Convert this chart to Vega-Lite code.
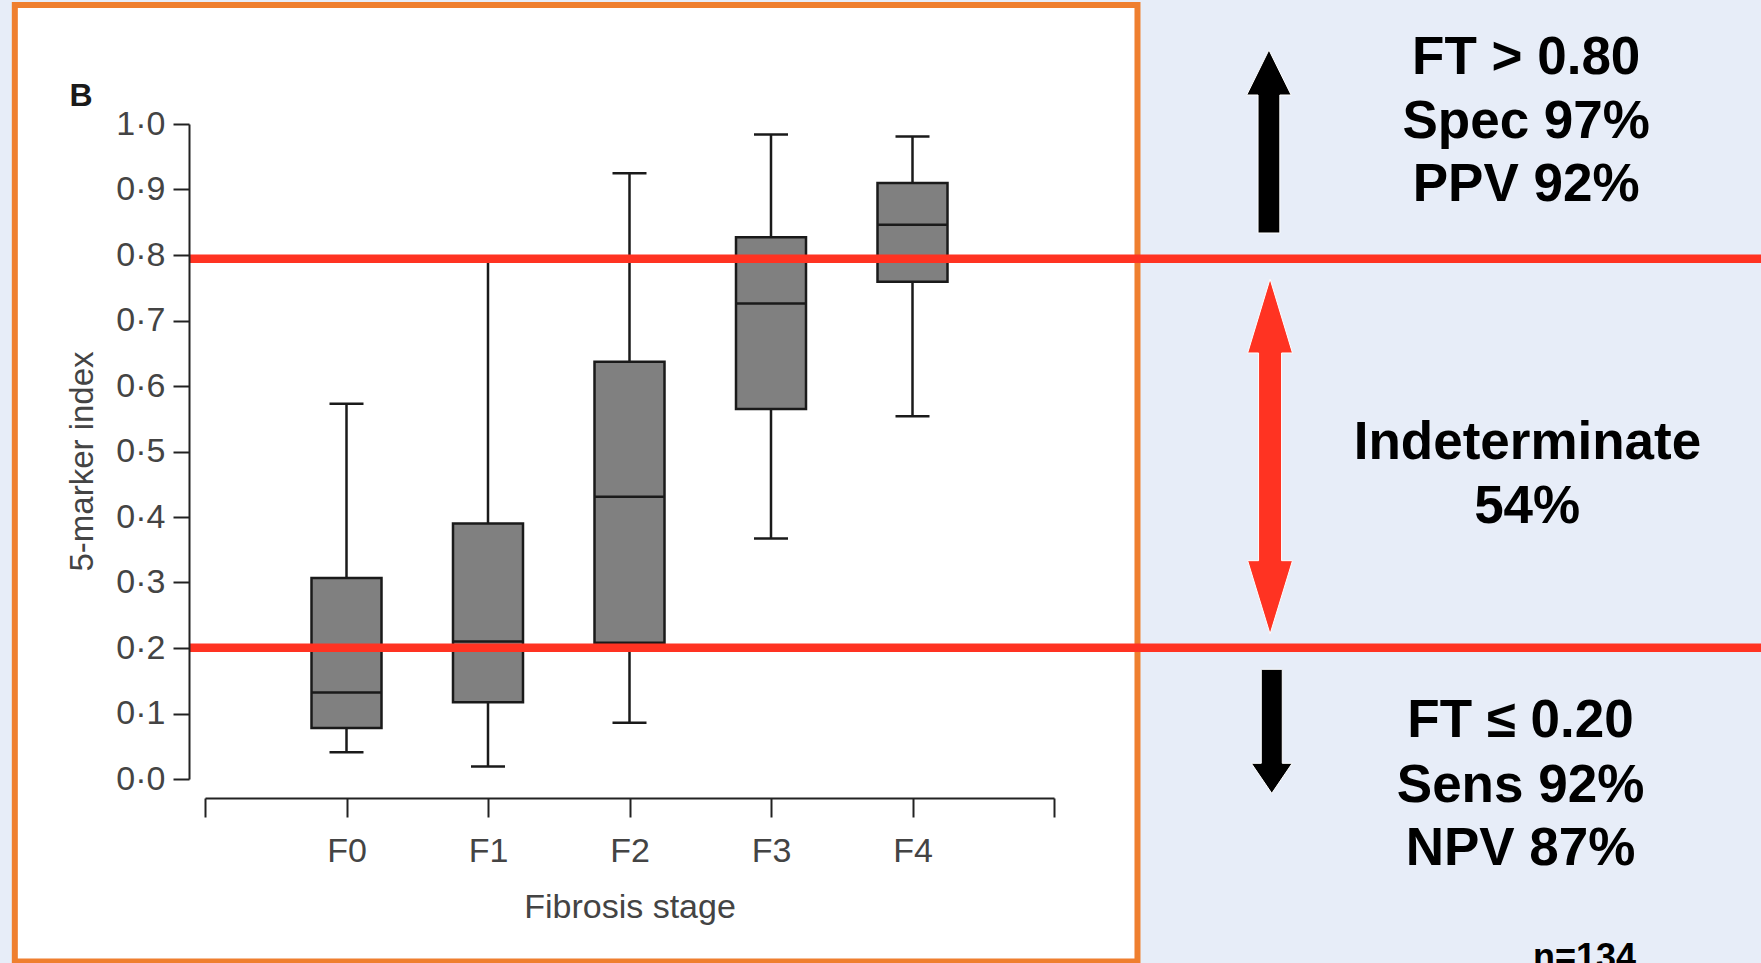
{
  "$schema": "https://vega.github.io/schema/vega-lite/v6.json",
  "width": 849,
  "height": 655,
  "autosize": {"type": "none"},
  "padding": {"left": 205, "top": 124, "right": 707, "bottom": 184},
  "background": "#E7EDF8",
  "config": {"view": {"stroke": null}, "font": "Liberation Sans", "scale": {"continuousPadding": 0}},
  "datasets": {
    "boxes": [
      {"stage": "F0", "pos": 0, "lower": 0.041, "q1": 0.078, "median": 0.132, "q3": 0.307, "upper": 0.573},
      {"stage": "F1", "pos": 1, "lower": 0.019, "q1": 0.117, "median": 0.210, "q3": 0.390, "upper": 0.791},
      {"stage": "F2", "pos": 2, "lower": 0.086, "q1": 0.208, "median": 0.431, "q3": 0.637, "upper": 0.925},
      {"stage": "F3", "pos": 3, "lower": 0.367, "q1": 0.565, "median": 0.726, "q3": 0.827, "upper": 0.984},
      {"stage": "F4", "pos": 4, "lower": 0.554, "q1": 0.759, "median": 0.846, "q3": 0.910, "upper": 0.981}
    ],
    "panel": [{"x0": -2.344, "x1": 5.59, "y0": 1.1817, "y1": -0.2786}],
    "cutoffs": [{"cutoff": 0.7944}, {"cutoff": 0.2005}],
    "arrows": [
      {"arrow": "up", "ax": 6.519, "ay": 0.9733},
      {"arrow": "both", "ax": 6.527, "ay": 0.4924},
      {"arrow": "down", "ax": 6.539, "ay": 0.0728}
    ],
    "notes": [
      {"text": "FT > 0.80", "tx": 8.337, "ty": 1.0763},
      {"text": "Spec 97%", "tx": 8.337, "ty": 0.9786},
      {"text": "PPV 92%", "tx": 8.337, "ty": 0.8829},
      {"text": "Indeterminate", "tx": 8.346, "ty": 0.4885},
      {"text": "54%", "tx": 8.344, "ty": 0.3908},
      {"text": "FT ≤ 0.20", "tx": 8.297, "ty": 0.0641},
      {"text": "Sens 92%", "tx": 8.297, "ty": -0.0347},
      {"text": "NPV 87%", "tx": 8.297, "ty": -0.1313}
    ],
    "nlabel": [{"text": "n=134", "tx": 8.749, "ty": -0.2908}],
    "panelLabel": [{"text": "B", "tx": -1.958, "ty": 1.0275}]
  },
  "layer": [
    {
      "data": {"name": "panel"},
      "mark": {"type": "rect", "fill": "white", "stroke": "#EF7F2F", "strokeWidth": 6},
      "encoding": {
        "x": {"field": "x0", "type": "quantitative", "scale": {"domain": [-1, 5], "nice": false, "zero": false}},
        "x2": {"field": "x1"},
        "y": {"field": "y0", "type": "quantitative", "scale": {"domain": [0, 1], "nice": false, "zero": false}},
        "y2": {"field": "y1"}
      }
    },
    {
      "data": {"name": "boxes"},
      "mark": {"type": "rule", "color": "#1a1a1a", "strokeWidth": 2.5},
      "encoding": {
        "x": {"field": "pos", "type": "quantitative", "scale": {"domain": [-1, 5], "nice": false, "zero": false}},
        "y": {"field": "lower", "type": "quantitative", "scale": {"domain": [0, 1], "nice": false, "zero": false}},
        "y2": {"field": "upper"}
      }
    },
    {
      "data": {"name": "boxes"},
      "mark": {"type": "tick", "orient": "horizontal", "color": "#1a1a1a", "size": 34, "thickness": 2.5, "opacity": 1},
      "encoding": {
        "x": {"field": "pos", "type": "quantitative", "scale": {"domain": [-1, 5], "nice": false, "zero": false}},
        "y": {"field": "upper", "type": "quantitative", "scale": {"domain": [0, 1], "nice": false, "zero": false}}
      }
    },
    {
      "data": {"name": "boxes"},
      "mark": {"type": "tick", "orient": "horizontal", "color": "#1a1a1a", "size": 34, "thickness": 2.5, "opacity": 1},
      "encoding": {
        "x": {"field": "pos", "type": "quantitative", "scale": {"domain": [-1, 5], "nice": false, "zero": false}},
        "y": {"field": "lower", "type": "quantitative", "scale": {"domain": [0, 1], "nice": false, "zero": false}}
      }
    },
    {
      "data": {"name": "boxes"},
      "mark": {"type": "bar", "width": 70, "fill": "#808080", "stroke": "#1a1a1a", "strokeWidth": 2.5},
      "encoding": {
        "x": {
          "field": "pos", "type": "quantitative",
          "scale": {"domain": [-1, 5], "nice": false, "zero": false},
          "axis": {
            "zindex": 1,
            "values": [-1, 0, 1, 2, 3, 4, 5],
            "labelExpr": "datum.value >= 0 && datum.value <= 4 ? 'F' + datum.value : ''",
            "title": "Fibrosis stage",
            "offset": 19, "tickSize": 19, "tickWidth": 2, "tickColor": "#222",
            "domainColor": "#222", "domainWidth": 2,
            "labelFont": "Liberation Sans", "labelFontSize": 34, "labelColor": "#444", "labelPadding": 17,
            "labelFlush": false, "labelOverlap": false, "grid": false,
            "titleFont": "Liberation Sans", "titleFontSize": 34, "titleFontWeight": "normal", "titleColor": "#444",
            "titleBaseline": "alphabetic", "titleY": 119.4
          }
        },
        "y": {
          "field": "q1", "type": "quantitative",
          "scale": {"domain": [0, 1], "nice": false, "zero": false},
          "axis": {
            "zindex": 1,
            "values": [0, 0.1, 0.2, 0.3, 0.4, 0.5, 0.6, 0.7, 0.8, 0.9, 1.0],
            "labelExpr": "replace(format(datum.value, '.1f'), '.', '·')",
            "title": "5-marker index",
            "offset": 16, "tickSize": 16, "tickWidth": 2, "tickColor": "#222",
            "domainColor": "#222", "domainWidth": 2,
            "labelFont": "Liberation Sans", "labelFontSize": 34, "labelColor": "#444", "labelPadding": 8,
            "labelOverlap": false, "labelFlush": false, "grid": false,
            "titleFont": "Liberation Sans", "titleFontSize": 33, "titleFontWeight": "normal", "titleColor": "#444",
            "titleBaseline": "alphabetic", "titleAngle": 270, "titleX": -96.5, "titleY": 337
          }
        },
        "y2": {"field": "q3"}
      }
    },
    {
      "data": {"name": "boxes"},
      "mark": {"type": "tick", "orient": "horizontal", "color": "#1a1a1a", "size": 70, "thickness": 2.5, "opacity": 1},
      "encoding": {
        "x": {"field": "pos", "type": "quantitative", "scale": {"domain": [-1, 5], "nice": false, "zero": false}},
        "y": {"field": "median", "type": "quantitative", "scale": {"domain": [0, 1], "nice": false, "zero": false}}
      }
    },
    {
      "data": {"name": "cutoffs"},
      "mark": {"type": "rule", "color": "#FF3322", "strokeWidth": 8.5},
      "encoding": {
        "x": {"datum": -1.11, "type": "quantitative", "scale": {"domain": [-1, 5], "nice": false, "zero": false}},
        "x2": {"datum": 10.3},
        "y": {"field": "cutoff", "type": "quantitative", "scale": {"domain": [0, 1], "nice": false, "zero": false}}
      }
    },
    {
      "data": {"name": "arrows"},
      "mark": {"type": "point", "filled": true, "size": 40000, "opacity": 1, "stroke": "white", "strokeWidth": 1},
      "encoding": {
        "x": {"field": "ax", "type": "quantitative", "scale": {"domain": [-1, 5], "nice": false, "zero": false}},
        "y": {"field": "ay", "type": "quantitative", "scale": {"domain": [0, 1], "nice": false, "zero": false}},
        "shape": {
          "field": "arrow", "type": "nominal", "legend": null,
          "scale": {
            "domain": ["up", "both", "down"],
            "range": [
              "M0,-0.915L0.222,-0.465L0.109,-0.465L0.109,0.915L-0.109,0.915L-0.109,-0.465L-0.222,-0.465Z",
              "M0,-1.775L0.224,-1.035L0.115,-1.035L0.115,1.042L0.224,1.042L0,1.775L-0.224,1.042L-0.115,1.042L-0.115,-1.035L-0.224,-1.035Z",
              "M-0.105,-0.62L0.105,-0.62L0.105,0.32L0.204,0.32L0,0.62L-0.204,0.32L-0.105,0.32Z"
            ]
          }
        },
        "color": {
          "field": "arrow", "type": "nominal", "legend": null,
          "scale": {"domain": ["up", "both", "down"], "range": ["#000000", "#FF3322", "#000000"]}
        }
      }
    },
    {
      "data": {"name": "notes"},
      "mark": {"type": "text", "font": "Liberation Sans", "fontSize": 53, "fontWeight": "bold", "color": "#000000", "align": "center", "baseline": "alphabetic"},
      "encoding": {
        "x": {"field": "tx", "type": "quantitative", "scale": {"domain": [-1, 5], "nice": false, "zero": false}},
        "y": {"field": "ty", "type": "quantitative", "scale": {"domain": [0, 1], "nice": false, "zero": false}},
        "text": {"field": "text"}
      }
    },
    {
      "data": {"name": "nlabel"},
      "mark": {"type": "text", "font": "Liberation Sans", "fontSize": 36, "fontWeight": "bold", "color": "#000000", "align": "center", "baseline": "alphabetic"},
      "encoding": {
        "x": {"field": "tx", "type": "quantitative", "scale": {"domain": [-1, 5], "nice": false, "zero": false}},
        "y": {"field": "ty", "type": "quantitative", "scale": {"domain": [0, 1], "nice": false, "zero": false}},
        "text": {"field": "text"}
      }
    },
    {
      "data": {"name": "panelLabel"},
      "mark": {"type": "text", "font": "Liberation Sans", "fontSize": 32, "fontWeight": "bold", "color": "#1a1a1a", "align": "left", "baseline": "alphabetic"},
      "encoding": {
        "x": {"field": "tx", "type": "quantitative", "scale": {"domain": [-1, 5], "nice": false, "zero": false}},
        "y": {"field": "ty", "type": "quantitative", "scale": {"domain": [0, 1], "nice": false, "zero": false}},
        "text": {"field": "text"}
      }
    }
  ]
}
